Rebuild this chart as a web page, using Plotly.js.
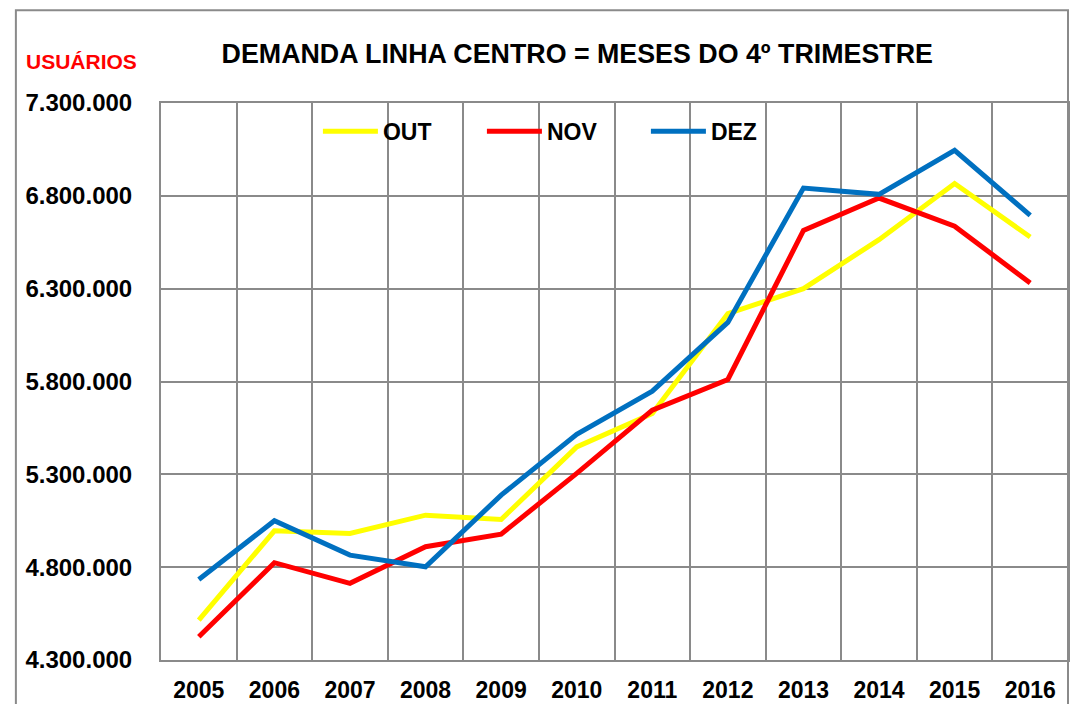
<!DOCTYPE html>
<html>
<head>
<meta charset="utf-8">
<script src="https://cdn.plot.ly/plotly-3.0.1.min.js"></script>
<style>html,body{margin:0;padding:0;background:#fff;}#chart{width:1081px;height:704px;}</style>
</head>
<body>
<div id="chart"></div>
<script>
const years = ['2005','2006','2007','2008','2009','2010','2011','2012','2013','2014','2015','2016'];
const outValues = [4515000, 4996000, 4982000, 5080000, 5057000, 5448000, 5628000, 6166000, 6300000, 6564000, 6866000, 6578000];
const novValues = [4425000, 4824000, 4713000, 4910000, 4978000, 5305000, 5646000, 5811000, 6614000, 6788000, 6636000, 6331000];
const dezValues = [4734000, 5050000, 4865000, 4802000, 5188000, 5516000, 5748000, 6118000, 6842000, 6808000, 7045000, 6695000];
const seriesNames = ['OUT', 'NOV', 'DEZ'];
const seriesColors = ['#FFFF00', '#FF0000', '#0070C0'];

const font = {family: 'Liberation Sans, Arial, sans-serif', color: '#000'};
const series = [outValues, novValues, dezValues];
const traces = series.map((vals, i) => ({
  type: 'scatter', mode: 'lines', x: years, y: vals, name: seriesNames[i],
  line: {color: seriesColors[i], width: 5}
}));

const layout = {
  width: 1081, height: 704,
  margin: {l: 161, r: 13, t: 103, b: 44},
  paper_bgcolor: '#fff', plot_bgcolor: '#fff',
  separators: ',.',
  font: font,
  title: {text: 'DEMANDA LINHA CENTRO = MESES DO 4º TRIMESTRE', x: 0.534, xanchor: 'center', y: 0.9236, yanchor: 'middle',
          font: {family: font.family, size: 26.8, weight: 'bold', color: '#000'}},
  xaxis: {type: 'category', tickson: 'boundaries', ticks: '', showgrid: true, gridcolor: '#8a8a8a', gridwidth: 2,
          showline: true, mirror: true, linecolor: '#8a8a8a', linewidth: 2, range: [-0.5, 11.5],
          ticklabelstandoff: 8,
          tickfont: {family: font.family, size: 23, weight: 'bold', color: '#000'}},
  yaxis: {range: [4300000, 7300000], tick0: 4300000, dtick: 500000, tickformat: ',d', ticks: '',
          showgrid: true, gridcolor: '#8a8a8a', gridwidth: 2, zeroline: false,
          showline: true, mirror: true, linecolor: '#8a8a8a', linewidth: 2, ticklabelstandoff: 22,
          tickfont: {family: font.family, size: 24, weight: 'bold', color: '#000'}},
  legend: {orientation: 'h', x: 0.173, xanchor: 'left', y: 0.949, yanchor: 'middle', entrywidth: 94, entrywidthmode: 'pixels',
           itemwidth: 55, bgcolor: 'rgba(0,0,0,0)',
           font: {family: font.family, size: 23, weight: 'bold', color: '#000'}},
  showlegend: true,
  annotations: [{text: 'USUÁRIOS', xref: 'paper', yref: 'paper', x: -0.1505, y: 1.0748, xanchor: 'left', yanchor: 'middle',
                 showarrow: false, font: {family: font.family, size: 21, weight: 'bold', color: '#FF0000'}}],
  shapes: [{type: 'rect', xref: 'paper', yref: 'paper', x0: -0.16, x1: 1, y0: -0.1, y1: 1.1664,
            line: {color: '#8a8a8a', width: 2}, fillcolor: 'rgba(0,0,0,0)', layer: 'below'}]
};

Plotly.newPlot('chart', traces, layout, {displayModeBar: false, staticPlot: true});
</script>
</body>
</html>
